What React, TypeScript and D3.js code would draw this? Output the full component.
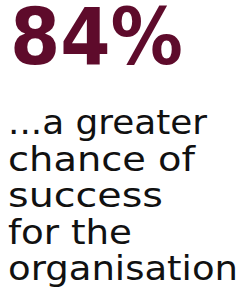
import React, { useEffect, useRef } from 'react';
import * as d3 from 'd3';

const statValue = ['84%'];
const captionLines = ['...a greater', 'chance of', 'success', 'for the', 'organisation'];

// measured widths of each line in the reference (layout, not data)
const statWidth = 173;
const captionWidths = [199, 187, 155, 124, 230];

const App: React.FC = () => {
  const svgRef = useRef<SVGSVGElement>(null);

  useEffect(() => {
    if (!svgRef.current) return;
    const width = 247;
    const height = 296;
    const svg = d3.select(svgRef.current);
    svg.selectAll('*').remove();
    svg.attr('width', width).attr('height', height);

    // big number
    svg.selectAll('.stat')
      .data(statValue)
      .enter().append('text')
      .attr('class', 'stat')
      .attr('x', 10)
      .attr('y', 64)
      .attr('fill', '#5e0b2b')
      .attr('textLength', statWidth)
      .attr('lengthAdjust', 'spacingAndGlyphs')
      .style('font-family', '"DejaVu Sans", sans-serif')
      .style('font-weight', 700)
      .style('font-size', '78px')
      .text(d => d);

    // caption, one line per row
    const y = d3.scaleLinear().domain([0, captionLines.length - 1]).range([134, 280]);
    svg.selectAll('.caption')
      .data(captionLines)
      .enter().append('text')
      .attr('class', 'caption')
      .attr('x', 8)
      .attr('y', (_, i) => y(i))
      .attr('fill', '#111')
      .attr('textLength', (_, i) => captionWidths[i])
      .attr('lengthAdjust', 'spacingAndGlyphs')
      .style('font-family', '"DejaVu Sans", sans-serif')
      .style('font-size', '34px')
      .text(d => d);
  }, []);

  return (
    <div style={{ position: 'absolute', left: 0, top: 0, background: '#fff' }}>
      <svg ref={svgRef}></svg>
    </div>
  );
};

export default App;
